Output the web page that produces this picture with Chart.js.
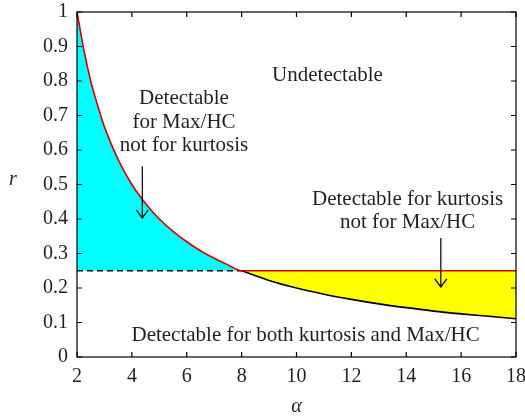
<!DOCTYPE html>
<html><head><meta charset="utf-8">
<script src="https://cdn.jsdelivr.net/npm/chart.js@4/dist/chart.umd.min.js"></script>
<style>html,body{margin:0;padding:0;background:#fff}#wrap{width:525px;height:418px}</style>
</head><body><div id="wrap"><canvas id="c" width="525" height="418"></canvas></div>
<script>
// Red boundary (Max/HC) for alpha 2..8, then flat kurtosis boundary at 0.25
const redAlpha = [2, 2.25, 2.5, 2.75, 3, 3.5, 4, 4.5, 5, 5.5, 6, 6.5, 7, 7.5, 8, 18];
const redR     = [1, 0.89, 0.80, 0.73, 0.667, 0.572, 0.50, 0.445, 0.40, 0.364, 0.334, 0.308, 0.286, 0.267, 0.25, 0.25];
// Black boundary for alpha 8..18
const blackAlpha = [8, 9, 10, 11, 12, 13, 14, 15, 16, 17, 18];
const blackR     = [0.25, 0.222, 0.20, 0.182, 0.167, 0.154, 0.143, 0.133, 0.125, 0.118, 0.111];
// Dashed kurtosis boundary 2..8
const dashAlpha = [2, 8];
const dashR = [0.25, 0.25];
const kurtLevel = 0.25;
const xTickValues = [2, 4, 6, 8, 10, 12, 14, 16, 18];
const xTickLabels = ['2','4','6','8','10','12','14','16','18'];
const yTickValues = [0, 0.1, 0.2, 0.3, 0.4, 0.5, 0.6, 0.7, 0.8, 0.9, 1];
const yTickLabels = ['0','0.1','0.2','0.3','0.4','0.5','0.6','0.7','0.8','0.9','1'];

const FONT = '"Liberation Serif", "DejaVu Serif", serif';
const TXT = '#231f20';
const pts = (xs, ys) => xs.map((x, i) => ({x, y: ys[i]}));

const overlay = {
  id: 'overlay',
  afterDraw(chart) {
    const {ctx, chartArea: a, scales: {x, y}} = chart;
    ctx.save();
    ctx.strokeStyle = '#000';
    ctx.lineWidth = 1.2;
    ctx.strokeRect(a.left, a.top, a.right - a.left, a.bottom - a.top);
    const tl = 5;
    ctx.beginPath();
    xTickValues.forEach(v => {
      const px = x.getPixelForValue(v);
      ctx.moveTo(px, a.bottom); ctx.lineTo(px, a.bottom - tl);
      ctx.moveTo(px, a.top); ctx.lineTo(px, a.top + tl);
    });
    yTickValues.forEach(v => {
      const py = y.getPixelForValue(v);
      ctx.moveTo(a.left, py); ctx.lineTo(a.left + tl, py);
      ctx.moveTo(a.right, py); ctx.lineTo(a.right - tl, py);
    });
    ctx.stroke();
    // texts
    ctx.fillStyle = TXT;
    ctx.textAlign = 'center';
    ctx.textBaseline = 'middle';
    ctx.font = '21px ' + FONT;
    const txt = (s, dx, dy) => ctx.fillText(s, x.getPixelForValue(dx), y.getPixelForValue(dy));
    txt('Undetectable', 11.13, 0.815);
    txt('Detectable', 5.9, 0.748);
    txt('for Max/HC', 5.9, 0.681);
    txt('not for kurtosis', 5.9, 0.612);
    txt('Detectable for kurtosis', 14.05, 0.458);
    txt('not for Max/HC', 14.05, 0.389);
    txt('Detectable for both kurtosis and Max/HC', 10.33, 0.061);
    // axis titles
    ctx.font = 'italic 20px ' + FONT;
    ctx.fillText('r', 13, y.getPixelForValue(0.515));
    ctx.fillText('\u03b1', x.getPixelForValue(10), 407);
    // arrows
    const arrow = (ax, y0, y1) => {
      const px = x.getPixelForValue(ax);
      const p0 = y.getPixelForValue(y0), p1 = y.getPixelForValue(y1);
      ctx.beginPath();
      ctx.lineWidth = 1.2;
      ctx.moveTo(px, p0); ctx.lineTo(px, p1);
      ctx.moveTo(px - 6, p1 - 8); ctx.lineTo(px, p1); ctx.lineTo(px + 6, p1 - 8);
      ctx.stroke();
    };
    arrow(4.38, 0.553, 0.403);
    arrow(15.26, 0.345, 0.203);
    ctx.restore();
  }
};

new Chart(document.getElementById('c'), {
  type: 'line',
  data: {
    datasets: [
      { data: pts(redAlpha, redR), borderColor: '#d00000', borderWidth: 1.6,
        fill: {target: {value: kurtLevel}, above: '#00ffff', below: 'rgba(0,0,0,0)'},
        pointRadius: 0, cubicInterpolationMode: 'monotone', order: 1 },
      { data: pts(blackAlpha, blackR), borderColor: '#000', borderWidth: 1.6,
        fill: {target: {value: kurtLevel}, above: 'rgba(0,0,0,0)', below: '#ffff00'},
        pointRadius: 0, cubicInterpolationMode: 'monotone', order: 2 },
      { data: pts(dashAlpha, dashR), borderColor: '#000', borderWidth: 1.4, borderDash: [6, 4],
        fill: false, pointRadius: 0, order: 3 }
    ]
  },
  options: {
    responsive: false, animation: false,
    layout: {padding: {left: 0, right: 9, top: 12, bottom: 0}},
    plugins: {legend: {display: false}, tooltip: {enabled: false}, filler: {drawTime: 'beforeDatasetsDraw'}},
    scales: {
      x: { type: 'linear', min: 2, max: 18,
        afterBuildTicks: s => { s.ticks = xTickValues.map(v => ({value: v})); },
        ticks: { callback: (v) => xTickLabels[xTickValues.indexOf(v)], color: TXT,
                 font: {family: FONT, size: 20}, padding: 4, maxRotation: 0, autoSkip: false },
        grid: {display: false, drawTicks: true, tickLength: 4, color: 'rgba(0,0,0,0)'},
        border: {display: false},
        afterFit: s => { s.height = 61; s.paddingLeft = 0; s.paddingRight = 0; } },
      y: { min: 0, max: 1,
        afterBuildTicks: s => { s.ticks = yTickValues.map(v => ({value: v})); },
        ticks: { callback: (v) => yTickLabels[yTickValues.findIndex(t => Math.abs(t - v) < 1e-9)], color: TXT,
                 font: {family: FONT, size: 20}, padding: 3, autoSkip: false },
        grid: {display: false, drawTicks: true, tickLength: 6, color: 'rgba(0,0,0,0)'},
        border: {display: false},
        afterFit: s => { s.width = 77; s.paddingTop = 0; s.paddingBottom = 0; } }
    }
  },
  plugins: [overlay]
});
</script></body></html>
